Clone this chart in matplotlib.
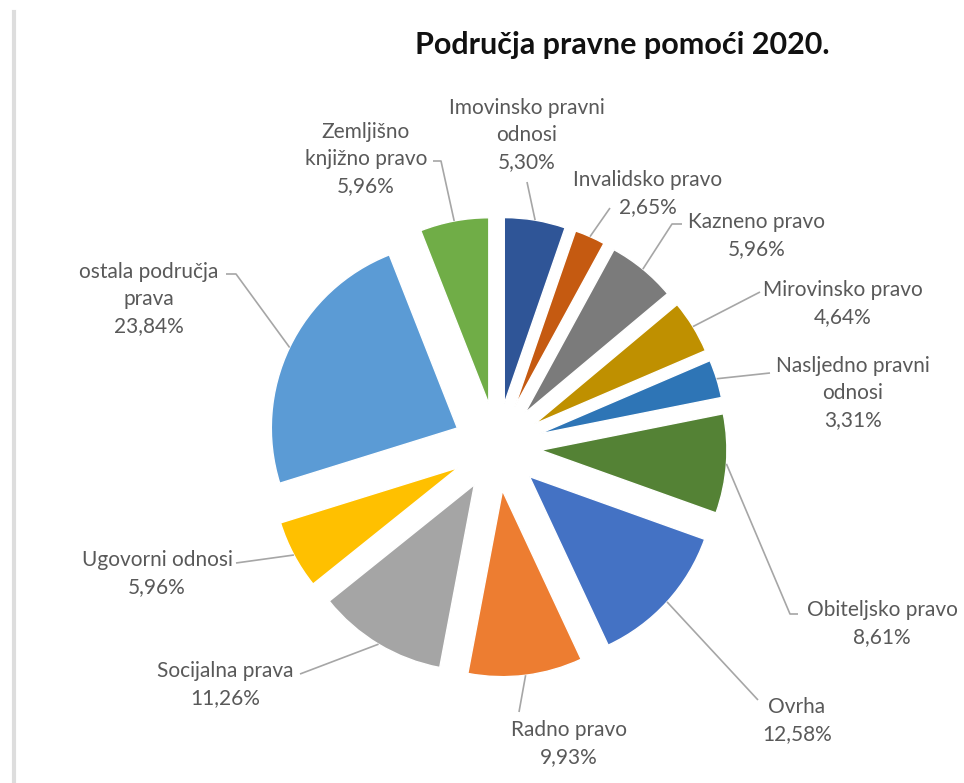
"""
Područja pravne pomoći 2020. - exploded pie with outside labels
"""
import numpy as np
import matplotlib
matplotlib.use('Agg')
import matplotlib.pyplot as plt

# data
categories = ['Imovinsko pravni\nodnosi', 'Invalidsko pravo', 'Kazneno pravo',
              'Mirovinsko pravo', 'Nasljedno pravni\nodnosi', 'Obiteljsko pravo',
              'Ovrha', 'Radno pravo', 'Socijalna prava', 'Ugovorni odnosi',
              'ostala područja\nprava', 'Zemljišno\nknjižno pravo']
shares = [5.30, 2.65, 5.96, 4.64, 3.31, 8.61, 12.58, 9.93, 11.26, 5.96, 23.84, 5.96]
pct_labels = ['5,30%', '2,65%', '5,96%', '4,64%', '3,31%', '8,61%',
              '12,58%', '9,93%', '11,26%', '5,96%', '23,84%', '5,96%']
colors = ['#2F5597', '#C55A11', '#7B7B7B', '#BF9000', '#2E75B6', '#548235',
          '#4472C4', '#ED7D31', '#A5A5A5', '#FFC000', '#5B9BD5', '#70AD47']

# layout (pixel coords, y from top): text centre of first line, leader elbow
label_pos = [(527, 108), (648, 180), (757, 222), (843, 290), (853, 366), (882, 610),
             (797, 707), (569, 730), (225, 671), (157, 560), (149, 272), (366, 132)]
leader_end = [(527, 182), (610, 208), (682, 224), (760, 292), (770, 373), (798, 614),
              (758, 700), (519, 712), (300, 674), (236, 563), (226, 274), (433, 161)]
leader_stub = [None, None, (672, 224), None, None, (790, 614),
               None, None, None, None, (236, 274), (441, 161)]

W, H = 964, 783
fig = plt.figure(figsize=(W / 100, H / 100), dpi=100)
ax = fig.add_axes([0, 0, 1, 1])

cx, cy = 497, H - 447
radius = 186
explode = [44] * len(shares)   # offset in pixels (data units)
wedges, _ = ax.pie(shares, colors=colors, startangle=90, counterclock=False,
                   explode=explode, center=(cx, cy), radius=radius,
                   wedgeprops=dict(edgecolor='white', linewidth=1.0))
ax.set_xlim(0, W)
ax.set_ylim(0, H)
ax.set_aspect('equal')
ax.axis('off')

font = ['Lato', 'DejaVu Sans']
tcol = '#595959'
lcol = '#A6A6A6'
for i, w in enumerate(wedges):
    mid = np.deg2rad((w.theta1 + w.theta2) / 2)
    wx, wy = w.center
    px = wx + w.r * np.cos(mid)
    py = wy + w.r * np.sin(mid)
    ex, ey = leader_end[i]
    pts_x = [ex]
    pts_y = [H - ey]
    if leader_stub[i] is not None:
        pts_x.append(leader_stub[i][0])
        pts_y.append(H - leader_stub[i][1])
    pts_x.append(px)
    pts_y.append(py)
    ax.plot(pts_x, pts_y, color=lcol, lw=1.2, solid_capstyle='butt')
    tx, ty = label_pos[i]
    lines = categories[i].split('\n') + [pct_labels[i]]
    for k, line in enumerate(lines):
        ax.text(tx, H - (ty + 27 * k), line, ha='center', va='center',
                fontsize=15, color=tcol, family=font)

ax.text(622, H - 45, 'Područja pravne pomoći 2020.', ha='center', va='center',
        fontsize=22, fontweight='bold', color='#111111', family=font)

# thin border on the left edge
ax.plot([14, 14], [0, H - 12], color='#DDDDDD', lw=3)

fig.savefig('out.png', dpi=100, facecolor='white')
